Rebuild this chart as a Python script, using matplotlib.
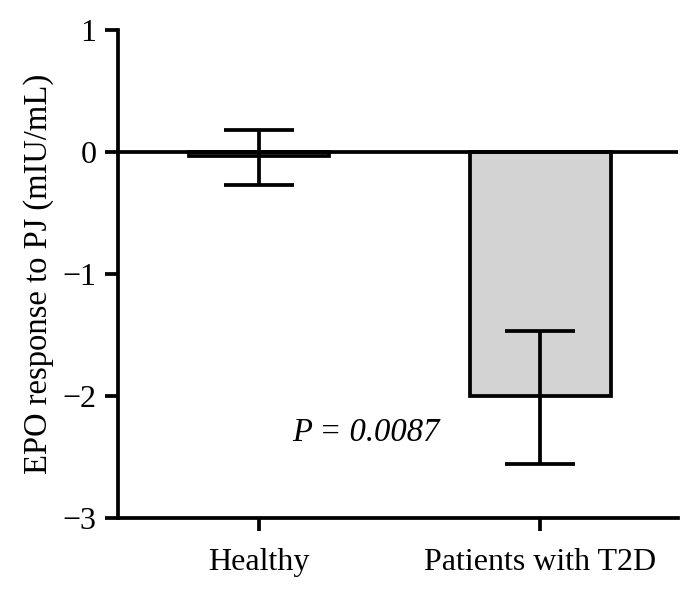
import numpy as np
import matplotlib.pyplot as plt

plt.rcParams['font.family'] = ['Liberation Serif', 'DejaVu Serif']

groups = ["Healthy", "Patients with T2D"]
means = [-0.03, -2.0]
err_upper = [0.18, -1.47]
err_lower = [-0.27, -2.56]
p_label = "P = 0.0087"

means = np.array(means)
yerr = np.array([means - np.array(err_lower), np.array(err_upper) - means])

fig = plt.figure(figsize=(7, 6), dpi=100)
ax = fig.add_axes([0.1686, 0.1367, 0.8, 0.8133])

x = np.arange(len(groups))
lw = 2.7
ax.bar(x, means, width=0.5, color=['white', '#d3d3d3'], edgecolor='black',
       linewidth=lw, zorder=2)
ax.errorbar(x, means, yerr=yerr, fmt='none', ecolor='black', elinewidth=lw,
            capsize=25, capthick=lw, zorder=3)
ax.axhline(0, color='black', linewidth=lw, zorder=4)

ax.set_xlim(-0.502, 1.49)
ax.set_ylim(-3, 1)
ax.set_yticks([1, 0, -1, -2, -3])
ax.set_xticks(x)
ax.set_xticklabels(groups)
ax.set_ylabel("EPO response to PJ (mIU/mL)", fontsize=23.5, labelpad=6)

for s in ['top', 'right']:
    ax.spines[s].set_visible(False)
for s in ['left', 'bottom']:
    ax.spines[s].set_linewidth(lw)
ax.tick_params(axis='both', length=9.5, width=lw, labelsize=23)
ax.tick_params(axis='y', pad=6)
ax.tick_params(axis='x', pad=12)

ax.text(0.38, -2.3, p_label, style='italic', fontsize=23.5,
        ha='center', va='center')

fig.savefig("out.png", dpi=100)
